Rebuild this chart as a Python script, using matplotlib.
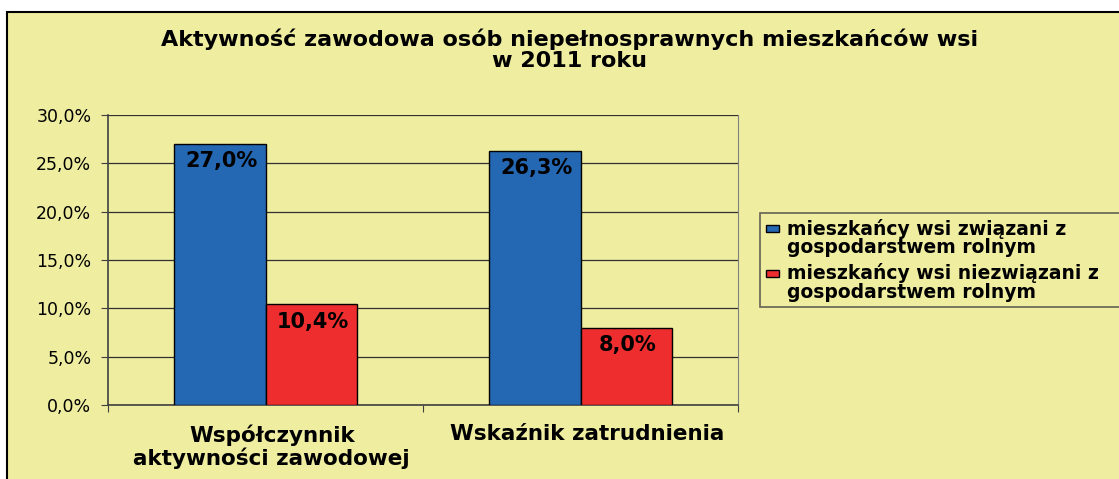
import numpy as np
import matplotlib.pyplot as plt
from matplotlib.patches import Rectangle
from matplotlib.legend_handler import HandlerPatch
from matplotlib.ticker import FuncFormatter

plt.rcParams['font.family'] = ['DejaVu Sans']

categories = ['Współczynnik\naktywności zawodowej', 'Wskaźnik zatrudnienia']
series_names = ['mieszkańcy wsi związani z\ngospodarstwem rolnym',
                'mieszkańcy wsi niezwiązani z\ngospodarstwem rolnym']
zwiazani = [27.0, 26.3]
niezwiazani = [10.4, 8.0]
title = 'Aktywność zawodowa osób niepełnosprawnych mieszkańców wsi\nw 2011 roku'

bg = '#EFEDA0'
blue = '#2468B4'
red = '#EE2E2E'

fig = plt.figure(figsize=(11.19, 4.79), dpi=100)
fig.patch.set_facecolor('white')
# chart area frame (cut off at right and bottom)
fig.patches.append(Rectangle((7 / 1119, -0.05), 1.1, 1.05 - 12 / 479,
                             transform=fig.transFigure, facecolor=bg,
                             edgecolor='black', linewidth=1.5, zorder=-1))

ax = fig.add_axes([108 / 1119, 1 - 405 / 479, 630 / 1119, 290 / 479])
ax.set_zorder(2)
ax.set_facecolor(bg)

x = np.arange(len(categories))
w = 0.29
b1 = ax.bar(x - w / 2, zwiazani, w, color=blue, edgecolor='black', linewidth=1, zorder=3)
b2 = ax.bar(x + w / 2, niezwiazani, w, color=red, edgecolor='black', linewidth=1, zorder=3)

for bars in (b1, b2):
    for r in bars:
        ax.text(r.get_x() + r.get_width() / 2 + 0.005, r.get_height() - 0.75,
                f'{r.get_height():.1f}%'.replace('.', ','),
                ha='center', va='top', fontsize=15, fontweight='bold', zorder=4)

ax.set_xlim(-0.5, 1.5)
ax.set_ylim(0, 30)
ax.set_yticks(np.arange(0, 31, 5))
ax.yaxis.set_major_formatter(FuncFormatter(lambda v, p: f'{v:.1f}%'.replace('.', ',')))
ax.tick_params(axis='y', labelsize=12.5, length=5, color='#404040', pad=7)
ax.grid(axis='y', color='#303030', linewidth=0.9, zorder=1)

ax.set_xticks([-0.5, 0.5, 1.5])
ax.tick_params(axis='x', length=5, color='#404040', labelbottom=False)
for i, c in enumerate(categories):
    ax.text(i + 0.02, -2.0, c, ha='center', va='top', fontsize=15.5, fontweight='bold',
            linespacing=1.1)

for s in ('left', 'bottom'):
    ax.spines[s].set_color('#404040')
    ax.spines[s].set_linewidth(1.2)
ax.spines['right'].set_color('#808080')
ax.spines['top'].set_visible(False)

fig.text(570 / 1119, 1 - 29 / 479, title, ha='center', va='top', fontsize=16,
         fontweight='bold', linespacing=1.05)


# legend key: small flat box next to the first line of each label
def key_box(legend, orig_handle, xdescent, ydescent, width, height, fontsize):
    return Rectangle((-xdescent, -ydescent + height / 2 + 4.5), width, 5.0)


# legend box runs past the right edge, as in the original
leg = fig.legend([b1.patches[0], b2.patches[0]], series_names, loc='upper left',
                 bbox_to_anchor=(760 / 1119, 1 - 213 / 479, 370 / 1119, 0), mode='expand',
                 borderaxespad=0,
                 prop={'weight': 'bold', 'size': 13.5}, frameon=True, fancybox=False,
                 edgecolor='#404040', facecolor=bg, handlelength=0.7, handleheight=0.7,
                 handletextpad=0.45, borderpad=0.3, labelspacing=0.35,
                 handler_map={Rectangle: HandlerPatch(patch_func=key_box)})
leg.get_frame().set_linewidth(1.2)
for t in leg.get_texts():
    t.set_linespacing(0.95)

fig.savefig('out.png', dpi=100, facecolor=fig.get_facecolor())
